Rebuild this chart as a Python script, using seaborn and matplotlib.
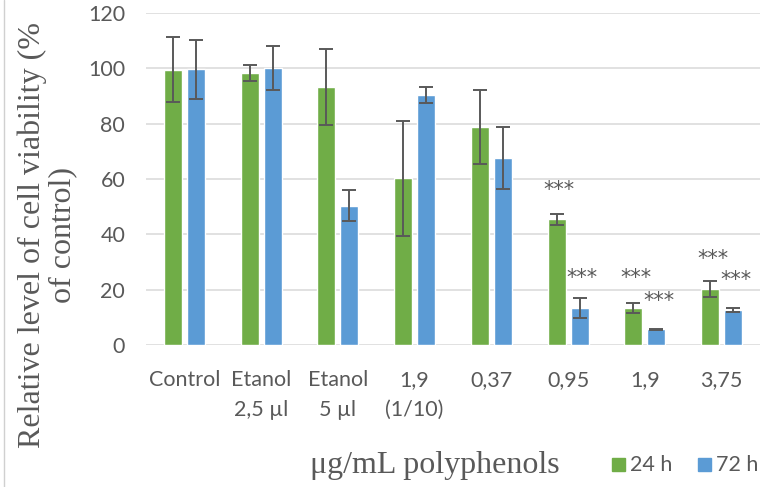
import matplotlib
matplotlib.use("Agg")
import matplotlib.pyplot as plt
import seaborn as sns
import pandas as pd
import numpy as np
from matplotlib.patches import Rectangle

# Treatment groups on the x axis
categories = ["Control", "Etanol\n2,5 µl", "Etanol\n5 µl", "1,9\n(1/10)",
              "0,37", "0,95", "1,9", "3,75"]
series_names = ["24 h", "72 h"]

# Mean viability (% of control) and standard deviation per group
viability_24h = [99.5, 98.3, 93.2, 60.2, 78.9, 45.4, 13.3, 20.2]
viability_72h = [99.6, 100.2, 50.4, 90.4, 67.5, 13.3, 5.7, 12.7]
sd_24h = [11.8, 3.0, 13.8, 20.8, 13.3, 2.0, 1.8, 2.8]
sd_72h = [10.7, 8.0, 5.6, 2.8, 11.2, 3.6, 0.2, 0.8]

# Significance marks and the value height at which each one sits
sig_24h = ["", "", "", "", "", "***", "***", "***"]
sig_72h = ["", "", "", "", "", "***", "***", "***"]
sig_y_24h = [0, 0, 0, 0, 0, 56.0, 24.3, 31.0]
sig_y_72h = [0, 0, 0, 0, 0, 24.3, 16.0, 23.5]

yticks = [0, 20, 40, 60, 80, 100, 120]

GREEN = "#70AD47"
BLUE = "#5B9BD5"
TEXT = "#595959"
GRID = "#D9D9D9"
SERIF = ["Liberation Serif", "DejaVu Serif"]

df = pd.DataFrame({
    "group": categories * 2,
    "time": [series_names[0]] * len(categories) + [series_names[1]] * len(categories),
    "value": viability_24h + viability_72h,
    "sd": sd_24h + sd_72h,
})

sns.set_theme(style="white")
plt.rcParams["font.family"] = ["Lato", "DejaVu Sans"]

fig = plt.figure(figsize=(7.65, 4.87), dpi=100)
ax = fig.add_axes([146 / 765, 1 - 345 / 487, 614 / 765, 332 / 487])

sns.barplot(data=df, x="group", y="value", hue="time", order=categories,
            hue_order=series_names, palette=[GREEN, BLUE], errorbar=None,
            width=0.6, gap=0.22, saturation=1, legend=False, ax=ax, zorder=3)

# Error bars placed at each bar's centre
n = len(categories)
for i, patch in enumerate(ax.patches[:2 * n]):
    s, j = divmod(i, n)
    cx = patch.get_x() + patch.get_width() / 2
    val = (viability_24h, viability_72h)[s][j]
    err = (sd_24h, sd_72h)[s][j]
    ax.errorbar(cx, val, yerr=err, fmt="none", ecolor=TEXT, elinewidth=1.4,
                capsize=4.8, capthick=1.4, zorder=4)
    mark = (sig_24h, sig_72h)[s][j]
    if mark:
        my = (sig_y_24h, sig_y_72h)[s][j]
        ax.text(cx + 2.5 / 76.75, my, mark, ha="center", va="center",
                fontsize=15, color=TEXT, family=["DejaVu Sans"], zorder=5)

ax.set_ylim(0, 120)
ax.set_xlim(-0.5, n - 0.5)
ax.set_yticks(yticks)
ax.yaxis.grid(True, color=GRID, linewidth=1.1, zorder=0)
ax.set_axisbelow(True)
for sp in ax.spines.values():
    sp.set_visible(False)
ax.tick_params(axis="both", length=0, labelsize=15.5, colors=TEXT)
ax.tick_params(axis="y", pad=15)
ax.tick_params(axis="x", pad=18)
for lab in ax.get_xticklabels():
    lab.set_linespacing(1.6)
ax.set_xlabel("")
ax.set_ylabel("")

# Axis titles in a serif face
fig.text(47 / 765, 1 - 235 / 487,
         "Relative level of cell viability (%\nof control)",
         rotation=90, ha="center", va="center", fontsize=23,
         family=SERIF, color=TEXT, linespacing=1.05)
fig.text(435 / 765, 1 - 465 / 487, "μg/mL polyphenols", ha="center",
         va="center", fontsize=23, family=SERIF, color=TEXT)

# Legend entries
for x0, color, label in [(612, GREEN, series_names[0]), (698, BLUE, series_names[1])]:
    fig.patches.append(Rectangle((x0 / 765, 1 - 471 / 487), 13 / 765, 13 / 487,
                                 transform=fig.transFigure, color=color))
    fig.text((x0 + 18) / 765, 1 - 465 / 487, label, ha="left", va="center",
             fontsize=15.5, color=TEXT)

# Chart frame edge on the left
fig.add_artist(plt.Line2D([3.5 / 765, 3.5 / 765], [0, 1], transform=fig.transFigure,
                          color="#D0D0D0", linewidth=1.0))

fig.savefig("out.png", dpi=100)
